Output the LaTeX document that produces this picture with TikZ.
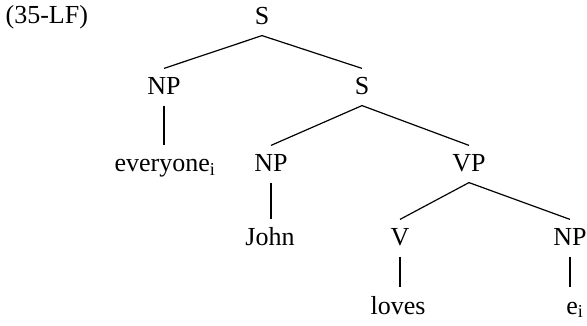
\documentclass[tikz,border=0pt]{standalone}
\usepackage{fontspec}
\setmainfont{Liberation Serif}
\tikzset{ c/.style = { anchor      = base
                     , inner xsep  = 1pt
                     , inner ysep  = 6pt
                     , text height = 20pt
                     , text depth  = 4pt
                     }
        }

\begin{document}
\begin{tikzpicture}[x=1pt, y=-1pt, line width=1.2pt, font=\fontsize{26}{30}\selectfont]
      \useasboundingbox (0,0) rectangle (587,326);
      \node[anchor=base west, inner sep=0pt] (ex) at (5,24) {(35-LF)};
      % top
      \node[c] (s)    at (262, 25) {S};
      \node[c] (np)   at (164, 95) {NP};
      \node[c] (s1)   at (362, 95) {S};
      % middle
      \node[c] (ev)   at (165,172) {everyone\textsubscript{i}};
      \node[c] (np1)  at (271,172) {NP};
      \node[c] (vp)   at (469,172) {VP};
      \node[c] (john) at (270,246) {John};
      \node[c] (v)    at (400,246) {V};
      \node[c] (np2)  at (570,246) {NP};
      % bottom
      \node[c] (lov)  at (398,314) {loves};
      \node[c] (e)    at (575,314) {e\textsubscript{i}};
      \draw (np.north)--(s.south)--(s1.north)
            (np1.north)--(s1.south)--(vp.north)
            (v.north)--(vp.south)--(np2.north);
      \draw (np.south)--(np.south |- ev.north)
            (np1.south)--(np1.south |- john.north)
            (v.south)--(v.south |- lov.north)
            (np2.south)--(np2.south |- e.north);
\end{tikzpicture}
\end{document}
